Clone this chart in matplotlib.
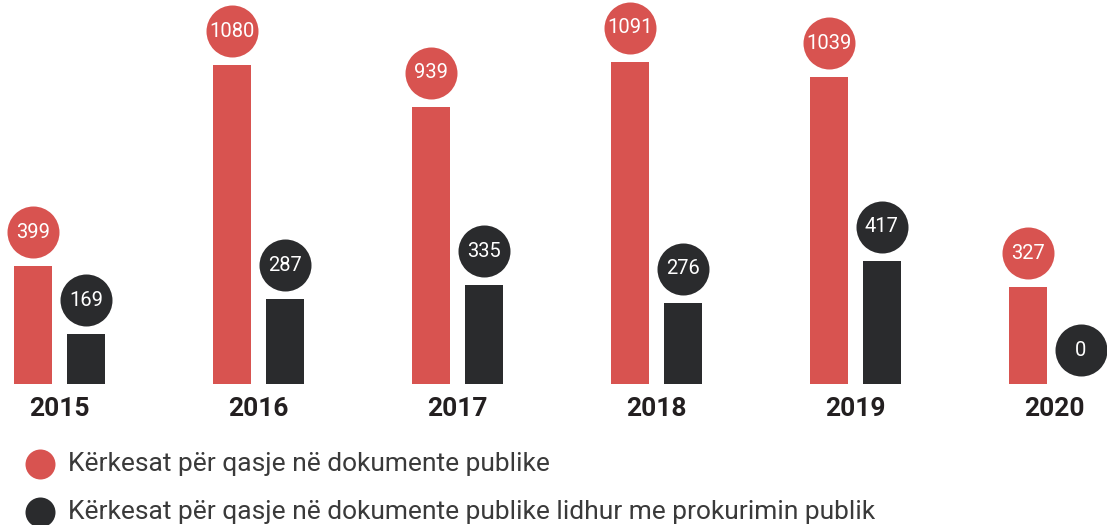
import matplotlib
matplotlib.use("Agg")
import matplotlib.pyplot as plt
from matplotlib import font_manager
from matplotlib.lines import Line2D
from matplotlib.transforms import offset_copy
import numpy as np

# data
years = ["2015", "2016", "2017", "2018", "2019", "2020"]
requests_all = [399, 1080, 939, 1091, 1039, 327]
requests_procurement = [169, 287, 335, 276, 417, 0]
legend_labels = [
    "Kërkesat për qasje në dokumente publike",
    "Kërkesat për qasje në dokumente publike lidhur me prokurimin publik",
]

RED = "#D85350"
DARK = "#2A2B2D"
TEXT = "#3A3A3A"

# fonts
names = {f.name for f in font_manager.fontManager.ttflist}
narrow = "Liberation Sans Narrow" if "Liberation Sans Narrow" in names else "Roboto"
plain = "Roboto" if "Roboto" in names else "DejaVu Sans"
bubble_size = 17 if narrow == "Liberation Sans Narrow" else 14.5

W, H, DPI = 1107, 525, 100
fig = plt.figure(figsize=(W / DPI, H / DPI), dpi=DPI)
px = 72 / DPI  # points per pixel

# axes: top of figure down to baseline at y=384 px
base_px = 384
ax = fig.add_axes([0, (H - base_px) / H, 1, base_px / H])
ax.set_axis_off()

step = 198.9
first = 59.5
ax.set_xlim(-first / step, (W - first) / step)
ax.set_ylim(0, base_px / 0.2952)

x = np.arange(len(years))
bw = 38 / step
off = 26.5 / step

ax.bar(x - off, requests_all, width=bw, color=RED, zorder=2)
ax.bar(x + off, requests_procurement, width=bw, color=DARK, zorder=2)

# value bubbles
lift = 34 * px
trans = offset_copy(ax.transData, fig=fig, x=0, y=lift, units="points")
for xs, vals, col in [(x - off, requests_all, RED), (x + off, requests_procurement, DARK)]:
    ax.plot(xs, vals, "o", ms=52 * px, color=col, mec="none", transform=trans,
            clip_on=False, zorder=3)
    for xi, v in zip(xs, vals):
        ax.annotate(str(v), (xi, v), xytext=(0, lift), textcoords="offset points",
                    ha="center", va="center", color="white", fontsize=bubble_size,
                    family=narrow, zorder=4, annotation_clip=False)

# year labels
for xi, yr in zip(x, years):
    ax.annotate(yr, (xi, 0), xytext=(0, -25 * px), textcoords="offset points",
                ha="center", va="center", fontsize=19, fontweight="bold",
                family=plain, color="#231F20", annotation_clip=False)

# legend
for i, (lab, col) in enumerate(zip(legend_labels, [RED, DARK])):
    yy = 1 - (464 + 48 * i) / H
    fig.add_artist(Line2D([40 / W], [yy], marker="o", ms=30 * px, color=col,
                          mec="none", transform=fig.transFigure))
    fig.text(68 / W, yy, lab, ha="left", va="center", fontsize=19,
             family=plain, color=TEXT)

fig.savefig("out.png", dpi=DPI)
